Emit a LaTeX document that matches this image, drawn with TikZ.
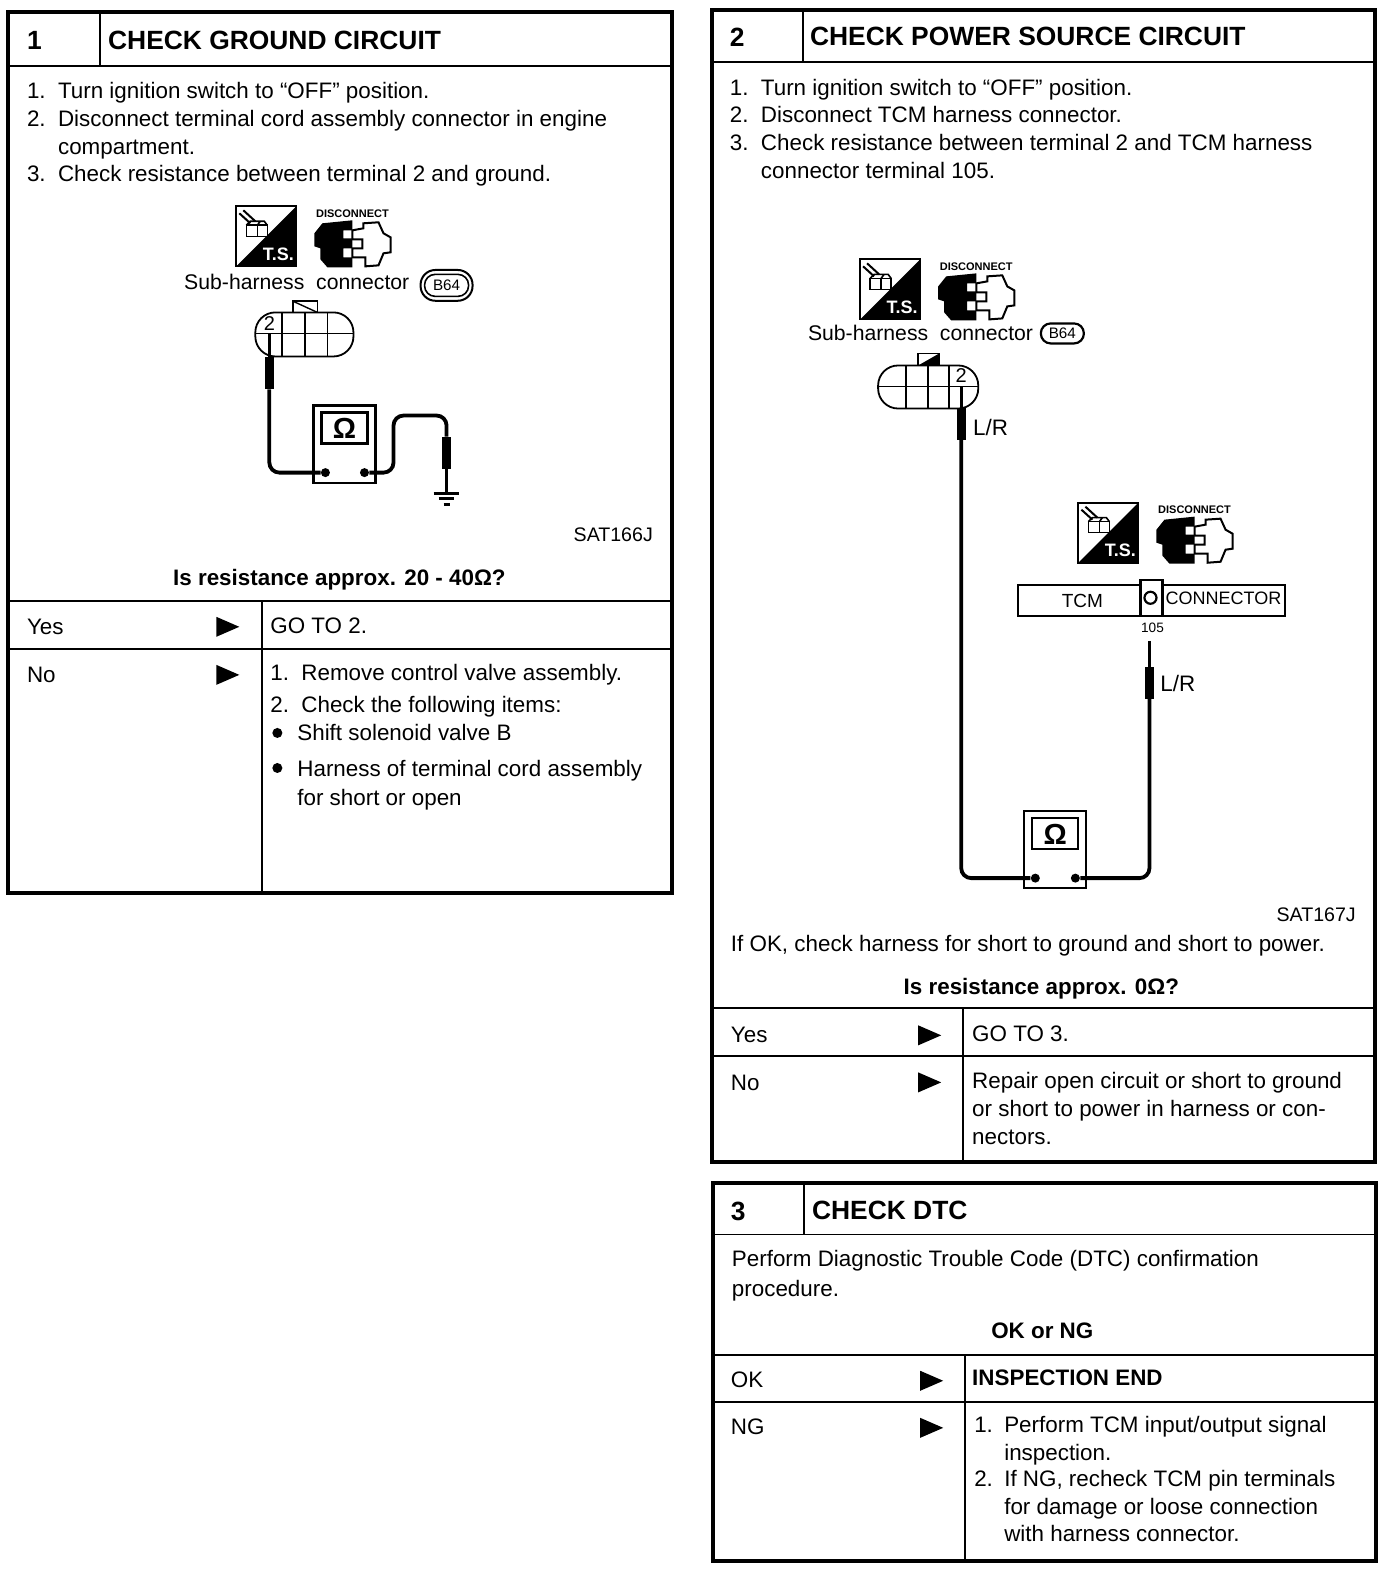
\documentclass[tikz,border=0pt]{standalone}
\usepackage{fontspec}
\setmainfont{Liberation Sans}
\begin{document}
\begin{tikzpicture}[x=0.5007pt,y=-0.5007pt,
  frame/.style={draw=black,line width=2pt},
  rule/.style={draw=black,line width=0.9pt},
  tx/.style={anchor=base west,inner sep=0pt,outer sep=0pt,font=\fontsize{11.2}{13}\selectfont},
  ttl/.style={anchor=base west,inner sep=0pt,outer sep=0pt,font=\fontsize{13.2}{15}\selectfont\bfseries},
  bld/.style={anchor=base,inner sep=0pt,outer sep=0pt,font=\fontsize{11.2}{13}\selectfont\bfseries},
  sm/.style={anchor=center,inner sep=0pt,outer sep=0pt,font=\fontsize{10}{12}\selectfont},
  code/.style={tx,font=\fontsize{9.8}{12}\selectfont},
  subh/.style={tx,font=\fontsize{10.6}{13}\selectfont},
  wire/.style={draw=black,line width=1.9pt,rounded corners=5pt},
  thin wire/.style={draw=black,line width=1.4pt},
  probe/.style={fill=black,inner sep=0pt,minimum width=4.5pt,minimum height=16pt,outer sep=0pt},
  tdot/.style={circle,fill=black,inner sep=0pt,minimum size=4.5pt},
  go/.style={fill=black,draw=none},
  part/.style={draw=black,line width=0.9pt,fill=white}]
\useasboundingbox (0,0) rectangle (1390,1568);
\newcommand{\T}[4]{\node[tx] (#1) at (#2,#3) {#4};}
\newcommand{\Tri}[2]{\fill[go] (#1,#2-10) -- (#1+23,#2) -- (#1,#2+10) -- cycle;}
% icon pair: name, x, y of the T.S. square
\newcommand{\Icons}[3]{%
 \begin{scope}[shift={(#2,#3)}]
  \draw[black,line width=0.9pt] (0,0) rectangle (60,60);
  \fill[black] (60,0) -- (60,60) -- (0,60) -- cycle;
  \node[anchor=center,inner sep=0pt,text=white,font=\fontsize{9}{10}\selectfont\bfseries] (#1ts) at (42,48) {T.S.};
  \draw[black,line width=0.8pt] (10,19) rectangle (21,30) (21,19) rectangle (31,30);
  \draw[black,line width=0.8pt] (10,19) -- (14,15) -- (28,15) -- (31,19) (21,19) -- (24,15);
  \draw[black,line width=1pt] (3,7) -- (14,17) (7,4) -- (19,15);
  \node[anchor=center,inner sep=0pt,font=\fontsize{5.5}{6}\selectfont\bfseries] (#1dc) at (116,7) {DISCONNECT};
  \fill[black] (78,27) -- (86,17) -- (116,14) -- (116,24) -- (107,24) -- (107,32) -- (116,32) -- (116,42) -- (107,42) -- (107,51) -- (116,51) -- (116,61) -- (91,61) -- (84,53) -- (84,42) -- (78,40) -- cycle;
  \draw[black,line width=1pt,fill=white] (116,24) -- (127,22) -- (127,17) -- (142,16) -- (147,27) -- (154,31) -- (154,46) -- (147,47) -- (142,59) -- (129,60) -- (129,51) -- (116,51) -- (116,42) -- (126,42) -- (126,33) -- (116,33) -- cycle;
 \end{scope}}
\newcommand{\Meter}[3]{%
 \begin{scope}[shift={(#2,#3)}]
  \draw[black,line width=1.1pt,fill=white] (0,0) rectangle (62,77);
  \draw[black,line width=1.1pt] (8,7) rectangle (54,38);
  \node[anchor=center,inner sep=0pt,font=\fontsize{14.5}{15}\selectfont\bfseries] (#1om) at (31,23) {Ω};
 \end{scope}}
% ---------- Frame 1
\draw[frame] (8,12) rectangle (671,892);
\draw[rule] (8,66) -- (671,66) (100,12) -- (100,66) (8,600) -- (671,600) (8,648) -- (671,648) (262,600) -- (262,892);
\node[ttl] (a0) at (27,49) {1};
\node[ttl] (a1) at (108,49) {CHECK GROUND CIRCUIT};
\T{a2}{27}{98}{1.} \T{a3}{58}{98}{Turn ignition switch to “OFF” position.}
\T{a4}{27}{126}{2.} \T{a5}{58}{126}{Disconnect terminal cord assembly connector in engine}
\T{a6}{58}{154}{compartment.}
\T{a7}{27}{181}{3.} \T{a8}{58}{181}{Check resistance between terminal 2 and ground.}
\Icons{ia}{236}{206}
\node[subh] (a9) at (184,289) {Sub-harness\ \ connector};
\node[draw=black,line width=1pt,rounded corners=7.4pt,inner sep=0pt,minimum width=26pt,minimum height=15.4pt] (abo) at (446,285) {};
\node[draw=black,line width=0.8pt,rounded corners=5.3pt,inner sep=0pt,minimum width=22pt,minimum height=11pt,font=\fontsize{7.6}{8}\selectfont] (ab) at (446,285) {B64};
% connector 1
\draw[part] (293,301) rectangle (317,312);
\draw[black,line width=.7pt] (293,301) -- (317,312);
\draw[part,rounded corners=10pt] (255,312) rectangle (353,356);
\draw[rule] (255,333) -- (353,333) (282,312) -- (282,356) (305,312) -- (305,356) (327,312) -- (327,356);
\node[sm] (a2n) at (269,323) {2};
\coordinate (apin) at (269,334);
\node[probe] (ap1) at (269,373) {};
\Meter{ma}{313}{405}
\node[tdot] (adl) at (325,472) {};
\node[tdot] (adr) at (364,472) {};
\node[probe] (ap2) at (446,452) {};
\coordinate (ag) at (446,493);
\coordinate (ac1) at (393,472); \coordinate (ac2) at (393,415); \coordinate (ac3) at (446,415);
\draw[thin wire] (apin) -- (ap1.north);
\draw[wire] (ap1.south) |- (adl);
\draw[wire] (adr) -- (ac1) -- (ac2) -- (ac3) -- (ap2.north);
\draw[thin wire] (ap2.south) -- (ag);
\draw[thin wire] (433,493) -- (458,493) (438,498) -- (453,498) (443,504) -- (449,504);
\node[code,anchor=base east] (a10) at (652,541) {SAT166J};
\node[bld] (a11) at (339,585) {Is resistance approx. 20 - 40Ω?};
\T{a12}{27}{634}{Yes} \Tri{216}{626} \T{a13}{270}{633}{GO TO 2.}
\T{a14}{27}{682}{No} \Tri{216}{674}
\T{a15}{270}{680}{1.} \T{a16}{301}{680}{Remove control valve assembly.}
\T{a17}{270}{712}{2.} \T{a18}{301}{712}{Check the following items:}
\fill (277,732) circle (5);
\T{a19}{297}{740}{Shift solenoid valve B}
\fill (277,767) circle (5);
\T{a20}{297}{775}{Harness of terminal cord assembly}
\T{a21}{297}{804}{for short or open}
% ---------- Frame 2
\draw[frame] (711,10) rectangle (1373,1161);
\draw[rule] (711,62) -- (1373,62) (802,10) -- (802,62) (711,1007) -- (1373,1007) (711,1055) -- (1373,1055) (962,1007) -- (962,1161);
\node[ttl] (b0) at (729,46) {2};
\node[ttl] (b1) at (809,45) {CHECK POWER SOURCE CIRCUIT};
\T{b2}{729}{95}{1.} \T{b3}{760}{95}{Turn ignition switch to “OFF” position.}
\T{b4}{729}{122}{2.} \T{b5}{760}{122}{Disconnect TCM harness connector.}
\T{b6}{729}{150}{3.} \T{b7}{760}{150}{Check resistance between terminal 2 and TCM harness}
\T{b8}{760}{178}{connector terminal 105.}
\Icons{ib}{859}{259}
\node[subh] (b9) at (807,340) {Sub-harness\ \ connector};
\node[draw=black,line width=1.1pt,rounded corners=4.9pt,inner sep=0pt,minimum width=21.5pt,minimum height=10pt,font=\fontsize{7.6}{8}\selectfont] (bb) at (1061,333) {B64};
\draw[part] (917,353) rectangle (938,365);
\fill[black] (917,365) -- (938,353) -- (938,365) -- cycle;
\draw[part,rounded corners=10pt] (877,365) rectangle (977,408);
\draw[rule] (877,386) -- (977,386) (905,365) -- (905,408) (927,365) -- (927,408) (948,365) -- (948,408);
\node[sm] (b2n) at (960,375) {2};
\coordinate (bpin) at (960,386);
\node[probe] (bp1) at (960,423) {};
\T{b10}{972}{435}{L/R}
\Icons{ic}{1077}{502}
\draw[part] (1017,584) rectangle (1283,615);
\draw[black,line width=1.2pt,fill=white] (1139,579) rectangle (1161,615);
\draw[black,line width=1.1pt] (1149,597) circle (6);
\node[anchor=center,inner sep=0pt,font=\fontsize{9.5}{12}\selectfont] (b11) at (1081,600) {TCM};
\node[anchor=center,inner sep=0pt,font=\fontsize{9}{12}\selectfont] (b12) at (1222,598) {CONNECTOR};
\node[anchor=center,inner sep=0pt,font=\fontsize{6.8}{8}\selectfont] (b13) at (1151,627) {105};
\coordinate (bt) at (1148,640);
\node[probe] (bp2) at (1148,682) {};
\T{b14}{1159}{691}{L/R}
\Meter{mb}{1023}{810}
\node[tdot] (bdl) at (1034,877) {};
\node[tdot] (bdr) at (1074,877) {};
\draw[thin wire] (bpin) -- (bp1.north);
\draw[wire] (bp1.south) |- (bdl);
\draw[thin wire] (bt) -- (bp2.north);
\draw[wire] (bp2.south) |- (bdr);
\node[code,anchor=base east] (b15) at (1354,920) {SAT167J};
\T{b16}{730}{950}{If OK, check harness for short to ground and short to power.}
\node[bld] (b17) at (1040,993) {Is resistance approx. 0Ω?};
\T{b18}{730}{1041}{Yes} \Tri{917}{1034} \T{b19}{971}{1040}{GO TO 3.}
\T{b20}{730}{1089}{No} \Tri{917}{1081}
\T{b21}{971}{1087}{Repair open circuit or short to ground}
\T{b22}{971}{1115}{or short to power in harness or con-}
\T{b23}{971}{1143}{nectors.}
% ---------- Frame 3
\draw[frame] (712,1181) rectangle (1374,1559);
\draw[rule] (712,1233) -- (1374,1233) (803,1181) -- (803,1233) (712,1353) -- (1374,1353) (712,1400) -- (1374,1400) (964,1353) -- (964,1559);
\node[ttl] (c0) at (730,1219) {3};
\node[ttl] (c1) at (811,1218) {CHECK DTC};
\T{c2}{731}{1265}{Perform Diagnostic Trouble Code (DTC) confirmation}
\T{c3}{731}{1295}{procedure.}
\node[bld] (c4) at (1041,1337) {OK or NG};
\T{c5}{730}{1386}{OK} \Tri{919}{1379}
\node[tx,font=\fontsize{11.2}{13}\selectfont\bfseries] (c6) at (971,1384) {INSPECTION END};
\T{c7}{730}{1433}{NG} \Tri{919}{1426}
\T{c8}{973}{1431}{1.} \T{c9}{1003}{1431}{Perform TCM input/output signal}
\T{c10}{1003}{1459}{inspection.}
\T{c11}{973}{1485}{2.} \T{c12}{1003}{1485}{If NG, recheck TCM pin terminals}
\T{c13}{1003}{1513}{for damage or loose connection}
\T{c14}{1003}{1540}{with harness connector.}
\end{tikzpicture}
\end{document}
